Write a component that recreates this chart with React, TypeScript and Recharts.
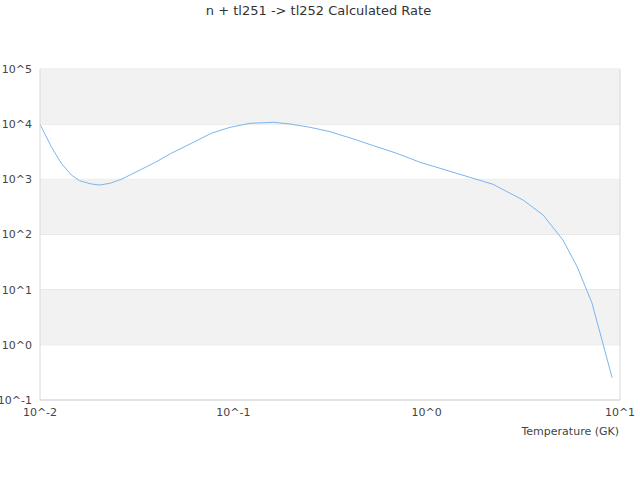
import React from 'react';
import { LineChart, Line, XAxis, YAxis, CartesianGrid, ReferenceArea, ReferenceLine } from 'recharts';

const temperatures = [0.01, 0.01144, 0.01288, 0.01452, 0.01603, 0.01841, 0.02037, 0.02296, 0.02636, 0.03214, 0.03917, 0.04775, 0.06067, 0.07691, 0.09616, 0.1219, 0.1611, 0.1963, 0.2495, 0.3162, 0.4345, 0.5297, 0.6998, 0.9247, 2.203, 3.148, 4.0, 5.07, 6.0, 7.16, 8.07, 9.1];
const rates = [9950, 3908, 1954, 1199, 944, 824, 789, 847, 1002, 1416, 2004, 2965, 4498, 6823, 8770, 10375, 10814, 10069, 8770, 7311, 5164, 4074, 2965, 2037, 813, 423, 226, 79.4, 26.1, 5.74, 1.22, 0.254];

const xTicks = [0.01, 0.1, 1, 10];
const yTicks = [0.1, 1, 10, 100, 1000, 10000, 100000];
const bandRanges: [number, number][] = [[10000, 100000], [100, 1000], [1, 10]];

const title = 'n + tl251 -> tl252 Calculated Rate';
const xLabel = 'Temperature (GK)';

const data = temperatures.map((t, i) => ({ t, r: rates[i] }));

const fmt = (v: number) => `10^${Math.round(Math.log10(v))}`;

const FONT = '"DejaVu Sans", sans-serif';

export default function App() {
  return (
    <div style={{ position: 'fixed', left: 0, top: 0, width: 640, height: 480, background: '#fff' }}>
      <div style={{ position: 'absolute', left: 0, top: 3, width: 637, textAlign: 'center', fontFamily: FONT, fontSize: 13, lineHeight: '16px', color: '#333' }}>
        {title}
      </div>
      <LineChart width={640} height={480} data={data} margin={{ top: 69, right: 20, left: 0, bottom: 44 }}>
        {bandRanges.map(([a, b], i) => (
          <ReferenceArea key={i} y1={a} y2={b} fill="#f2f2f2" fillOpacity={1} stroke="none" ifOverflow="visible" />
        ))}
        <CartesianGrid vertical={false} stroke="#e0e0e0" strokeDasharray="" />
        <ReferenceLine x={10} stroke="#d8d8d8" ifOverflow="visible" />
        <XAxis
          dataKey="t"
          type="number"
          scale="log"
          domain={[0.01, 10]}
          ticks={xTicks}
          tickFormatter={fmt}
          allowDataOverflow
          height={36}
          axisLine={{ stroke: '#d8d8d8' }}
          tickLine={false}
          tick={{ fill: '#444', fontSize: 11, fontFamily: FONT }}
          label={{ value: xLabel, position: 'insideBottomRight', offset: 1, fill: '#444', fontSize: 11, fontFamily: FONT }}
        />
        <YAxis
          type="number"
          scale="log"
          domain={[0.1, 100000]}
          ticks={yTicks}
          tickFormatter={fmt}
          allowDataOverflow
          width={40}
          axisLine={{ stroke: '#d8d8d8' }}
          tickLine={false}
          tick={{ fill: '#444', fontSize: 11, fontFamily: FONT }}
        />
        <Line type="linear" dataKey="r" stroke="#7cb5ec" strokeWidth={1} dot={false} isAnimationActive={false} />
      </LineChart>
    </div>
  );
}
